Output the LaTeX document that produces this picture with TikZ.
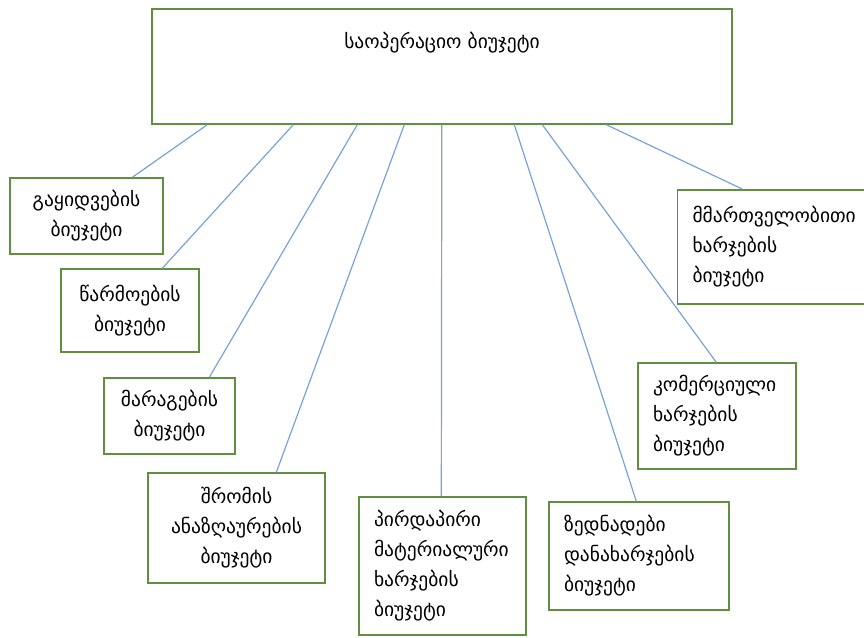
\documentclass[tikz,border=0pt]{standalone}
\usepackage{fontspec}
\setmainfont{DejaVu Sans}
\usetikzlibrary{calc}
\definecolor{boxgreen}{RGB}{98,142,64}
\definecolor{linkblue}{RGB}{120,163,212}
\tikzset{
  box/.style={draw=boxgreen, line width=1.4pt, fill=white, inner sep=0pt,
    font=\fontsize{19.5}{30}\selectfont},
  cbox/.style={box, align=center},
  lbox/.style={box, align=left, inner xsep=15pt},
  link/.style={draw=linkblue, line width=1.2pt}
}
\begin{document}
\begin{tikzpicture}[x=1pt,y=-1pt]
\useasboundingbox (0,0) rectangle (864,637);
\node[box, minimum width=580pt, text height=39pt, text depth=76pt] (top) at (442,66.5) {საოპერაციო ბიუჯეტი};
\node[cbox, minimum width=153pt, minimum height=76pt] (b1) at (86.5,216) {გაყიდვების\\ბიუჯეტი};
\node[cbox, minimum width=138pt, minimum height=83pt] (b2) at (130,310.5) {წარმოების\\ბიუჯეტი};
\node[cbox, minimum width=131pt, minimum height=76pt] (b3) at (169.5,416) {მარაგების\\ბიუჯეტი};
\node[cbox, minimum width=177pt, minimum height=110pt] (b4) at (236.5,528) {შრომის\\ანაზღაურების\\ბიუჯეტი};
\node[lbox, text width=137pt, minimum height=138pt] (b5) at (442.5,566) {პირდაპირი\\მატერიალური\\ხარჯების\\ბიუჯეტი};
\node[lbox, text width=150pt, minimum height=108pt] (b6) at (639,556) {ზედნადები\\დანახარჯების\\ბიუჯეტი};
\node[lbox, text width=128pt, minimum height=106pt] (b7) at (717,416) {კომერციული\\ხარჯების\\ბიუჯეტი};
\node[lbox, text width=157pt, minimum height=114pt] (b8) at (771,247) {მმართველობითი\\ხარჯების\\ბიუჯეტი};
\draw[link] ($(top.south west)+(56,0)$) -- ($(b1.north west)+(123,0)$);
\draw[link] ($(top.south west)+(142,0)$) -- ($(b2.north west)+(102,0)$);
\draw[link] ($(top.south west)+(206,0)$) -- ($(b3.north west)+(106,0)$);
\draw[link] ($(top.south west)+(253,0)$) -- ($(b4.north west)+(129,0)$);
\draw[link] ($(top.south west)+(290.5,0)$) -- ($(b5.north west)+(83,0)$);
\draw[link] ($(top.south west)+(363,0)$) -- ($(b6.north west)+(88,0)$);
\draw[link] ($(top.south west)+(391,0)$) -- ($(b7.north west)+(79,0)$);
\draw[link] ($(top.south west)+(455,0)$) -- ($(b8.north west)+(66,0)$);
\end{tikzpicture}
\end{document}
